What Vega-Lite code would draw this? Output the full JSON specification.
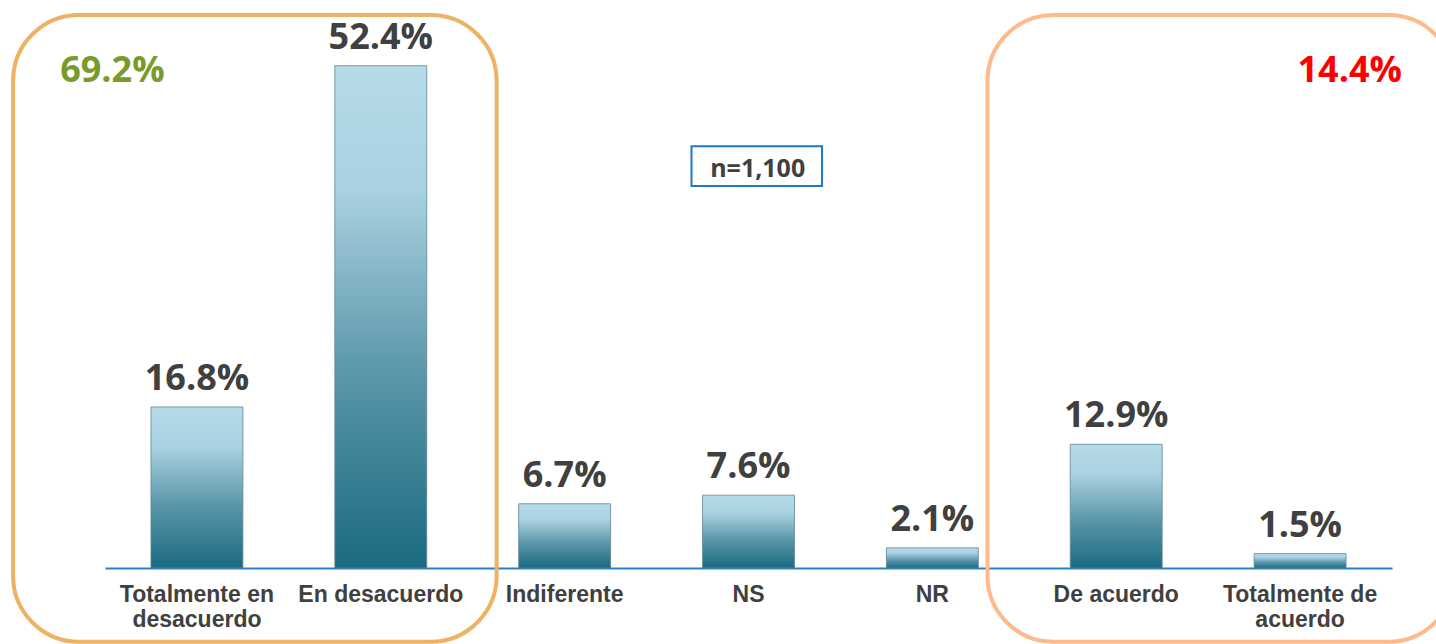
{
  "$schema": "https://vega.github.io/schema/vega-lite/v6.json",
  "width": 1287,
  "height": 556,
  "autosize": {"type": "none"},
  "padding": {"left": 105, "top": 12, "right": 44, "bottom": 76},
  "background": "white",
  "config": {"view": {"stroke": null}},
  "datasets": {
    "bars": [
      {"cat": "Totalmente en desacuerdo", "value": 16.8, "label": "16.8%"},
      {"cat": "En desacuerdo", "value": 52.4, "label": "52.4%"},
      {"cat": "Indiferente", "value": 6.7, "label": "6.7%"},
      {"cat": "NS", "value": 7.6, "label": "7.6%"},
      {"cat": "NR", "value": 2.1, "label": "2.1%"},
      {"cat": "De acuerdo", "value": 12.9, "label": "12.9%"},
      {"cat": "Totalmente de acuerdo", "value": 1.5, "label": "1.5%"}
    ],
    "boxes": [
      {"name": "desacuerdo", "x0": -1.0, "x1": 1.63, "y0": -7.7, "y1": 57.7, "color": "#ECB365"},
      {"name": "acuerdo", "x0": 4.3, "x1": 6.84, "y0": -7.7, "y1": 57.7, "color": "#FFBA8C"}
    ],
    "totals": [
      {"x": -0.46, "y": 50.7, "text": "69.2%", "color": "#789B2C"},
      {"x": 6.27, "y": 50.7, "text": "14.4%", "color": "#FF0000"}
    ],
    "nbox": [
      {"x0": 2.69, "x1": 3.4, "y0": 39.85, "y1": 44.0, "xc": 3.05, "yc": 40.8, "text": "n=1,100"}
    ]
  },
  "layer": [
    {
      "data": {"name": "boxes"},
      "mark": {"type": "rect", "fill": "transparent", "strokeWidth": 4, "cornerRadius": 66, "clip": false},
      "encoding": {
        "x": {"field": "x0", "type": "quantitative", "scale": {"domain": [-0.5, 6.5], "nice": false, "zero": false}, "axis": null},
        "x2": {"field": "x1"},
        "y": {"field": "y0", "type": "quantitative", "scale": {"domain": [0, 58], "nice": false}, "axis": null},
        "y2": {"field": "y1"},
        "stroke": {"field": "color", "type": "nominal", "scale": null, "legend": null}
      }
    },
    {
      "data": {"name": "bars"},
      "mark": {
        "type": "bar",
        "stroke": "#5f8796",
        "strokeWidth": 1,
        "strokeOpacity": 0.8,
        "color": {
          "gradient": "linear",
          "x1": 0, "y1": 0, "x2": 0, "y2": 1,
          "stops": [
            {"offset": 0, "color": "#b6dbe9"},
            {"offset": 0.25, "color": "#a9d1e0"},
            {"offset": 0.6, "color": "#5d98ab"},
            {"offset": 1, "color": "#1a6a80"}
          ]
        }
      },
      "encoding": {
        "x": {
          "field": "cat", "type": "nominal", "sort": null,
          "scale": {"paddingInner": 0.5, "paddingOuter": 0.25},
          "axis": {
            "title": null,
            "labelAngle": 0,
            "ticks": false,
            "domainColor": "#2a7fc8",
            "domainWidth": 2,
            "labelFont": "Liberation Sans",
            "labelFontWeight": "bold",
            "labelFontSize": 23,
            "labelColor": "#404040",
            "labelPadding": 15,
            "labelLineHeight": 25,
            "labelLimit": 400,
            "labelBaseline": "top",
            "labelExpr": "datum.value == 'Totalmente en desacuerdo' ? ['Totalmente en', 'desacuerdo'] : datum.value == 'Totalmente de acuerdo' ? ['Totalmente de', 'acuerdo'] : datum.value"
          }
        },
        "y": {"field": "value", "type": "quantitative", "scale": {"domain": [0, 58], "nice": false}, "axis": null}
      }
    },
    {
      "data": {"name": "bars"},
      "mark": {"type": "text", "font": "Open Sans", "fontWeight": "bold", "fontSize": 36, "color": "#404040", "baseline": "alphabetic", "dy": -17},
      "encoding": {
        "x": {"field": "cat", "type": "nominal", "sort": null, "scale": {"paddingInner": 0.5, "paddingOuter": 0.25}, "axis": null},
        "y": {"field": "value", "type": "quantitative"},
        "text": {"field": "label"}
      }
    },
    {
      "data": {"name": "totals"},
      "mark": {"type": "text", "font": "Open Sans", "fontWeight": "bold", "fontSize": 36, "baseline": "alphabetic", "align": "center"},
      "encoding": {
        "x": {"field": "x", "type": "quantitative", "scale": {"domain": [-0.5, 6.5], "nice": false, "zero": false}, "axis": null},
        "y": {"field": "y", "type": "quantitative"},
        "text": {"field": "text"},
        "color": {"field": "color", "type": "nominal", "scale": null, "legend": null}
      }
    },
    {
      "data": {"name": "nbox"},
      "mark": {"type": "rect", "fill": "white", "stroke": "#1f78c8", "strokeWidth": 2},
      "encoding": {
        "x": {"field": "x0", "type": "quantitative", "scale": {"domain": [-0.5, 6.5], "nice": false, "zero": false}, "axis": null},
        "x2": {"field": "x1"},
        "y": {"field": "y0", "type": "quantitative"},
        "y2": {"field": "y1"}
      }
    },
    {
      "data": {"name": "nbox"},
      "mark": {"type": "text", "font": "Open Sans", "fontWeight": "bold", "fontSize": 25, "color": "#404040", "baseline": "alphabetic", "align": "center"},
      "encoding": {
        "x": {"field": "xc", "type": "quantitative", "scale": {"domain": [-0.5, 6.5], "nice": false, "zero": false}, "axis": null},
        "y": {"field": "yc", "type": "quantitative"},
        "text": {"field": "text"}
      }
    }
  ],
  "resolve": {"scale": {"x": "independent"}}
}
